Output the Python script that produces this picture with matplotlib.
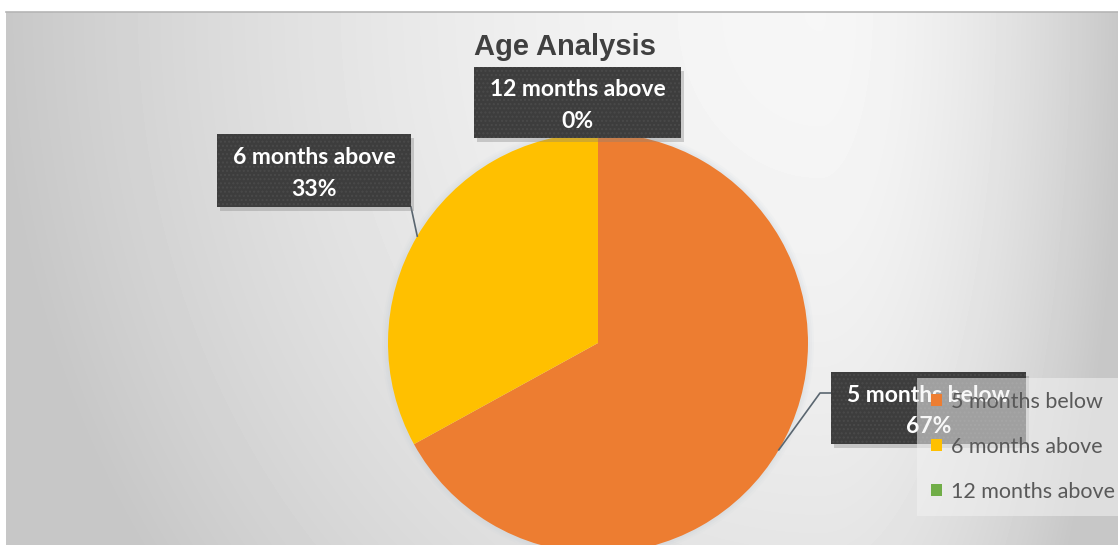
import matplotlib
matplotlib.use('Agg')
import matplotlib.pyplot as plt
import numpy as np
from matplotlib.patches import Rectangle, Circle

# ---- data ----
categories = ['5 months below', '6 months above', '12 months above']
values = [67, 33, 0]
colors = ['#ED7D31', '#FFC000', '#70AD47']
title = 'Age Analysis'

W, H = 1118, 545
fig = plt.figure(figsize=(W / 100, H / 100), dpi=100)
fig.patch.set_facecolor('white')
ax = fig.add_axes([0, 0, 1, 1])

# ---- background gradient (chart area) ----
x0, top = 6, 12
rows = np.arange(top, H)[:, None]
cols = np.arange(x0, W)[None, :]
cx = 820.0
hx = np.where(cols < cx, (cols - cx) / 820.0, (cols - cx) / 300.0)
hy = (rows - top) / 950.0
r = np.clip(np.sqrt(hx ** 2 + hy ** 2), 0, 1)
v = 0.965 - 0.185 * r ** 1.8
ax.imshow(v, cmap='gray', vmin=0, vmax=1, extent=(x0, W, 0, H - top),
          origin='upper', aspect='auto', zorder=0, interpolation='bilinear')
ax.plot([x0, W], [H - top, H - top], color='#b5b5b5', lw=1.2, zorder=1)

# ---- pie ----
center = (598, H - 343)
radius = 210
for k, a in enumerate([0.10, 0.08, 0.06]):
    ax.add_patch(Circle(center, radius + 2 + 2 * k, color='#b8c6d0', alpha=a,
                        lw=0, zorder=1.5))
wedges, _ = ax.pie(values, colors=colors, startangle=90, counterclock=False,
                   center=center, radius=radius, frame=True,
                   wedgeprops=dict(linewidth=0, zorder=2))

# ---- data labels ----
total = float(sum(values))
label_boxes = {0: (928.5, H - 408, 195, 72),
               1: (314, H - 170.5, 194, 73),
               2: (577.5, H - 102.5, 207, 71)}
for i, (cat, val) in enumerate(zip(categories, values)):
    bx, by, bw, bh = label_boxes[i]
    # drop shadow
    ax.add_patch(Rectangle((bx - bw / 2 + 3, by - bh / 2 - 4), bw, bh,
                           color='#808080', alpha=0.35, lw=0, zorder=4))
    ax.add_patch(Rectangle((bx - bw / 2, by - bh / 2), bw, bh,
                           facecolor='#3d3d3d', edgecolor='#4a4a4a',
                           hatch='....', lw=0, zorder=5))
    ax.text(bx, by - 3, f'{cat}\n{val / total * 100:.0f}%', ha='center',
            va='center', color='white', fontsize=16.5, fontweight='bold',
            family='Lato', linespacing=1.6, zorder=6)

# leader lines to wedge midpoints
w0 = wedges[0]
mid = np.deg2rad((w0.theta1 + w0.theta2) / 2)
ex, ey = center[0] + radius * np.cos(mid), center[1] + radius * np.sin(mid)
bx, by, bw, bh = label_boxes[0]
ax.plot([bx - bw / 2, bx - bw / 2 - 11, ex], [H - 393, H - 393, ey],
        color='#5a6670', lw=1.2, zorder=3)
w1 = wedges[1]
mid = np.deg2rad((w1.theta1 + w1.theta2) / 2)
ex, ey = center[0] + radius * np.cos(mid), center[1] + radius * np.sin(mid)
bx, by, bw, bh = label_boxes[1]
ax.plot([bx + bw / 2, ex], [by - bh / 2, ey], color='#5a6670', lw=1.2, zorder=3)

# ---- title ----
ax.text(565, H - 47, title, ha='center', va='center', fontsize=21,
        fontweight='bold', color='#404040', family='Liberation Sans', zorder=6)

# ---- legend ----
leg = ax.legend(wedges, categories, loc='upper left',
                bbox_to_anchor=(917 / W, 1 - 378 / H),
                bbox_transform=fig.transFigure,
                frameon=True, fancybox=False, facecolor='#f2f2f2',
                edgecolor='none', framealpha=0.55,
                prop=dict(family='Lato', size=15.5), labelcolor='#595959',
                handlelength=0.5, handleheight=0.5, handletextpad=0.45,
                labelspacing=1.15, borderpad=0.65, borderaxespad=0)
leg.set_zorder(10)

ax.set_xlim(0, W)
ax.set_ylim(0, H)
ax.set_aspect('auto')
ax.axis('off')
fig.savefig('out.png', dpi=100, facecolor='white')
